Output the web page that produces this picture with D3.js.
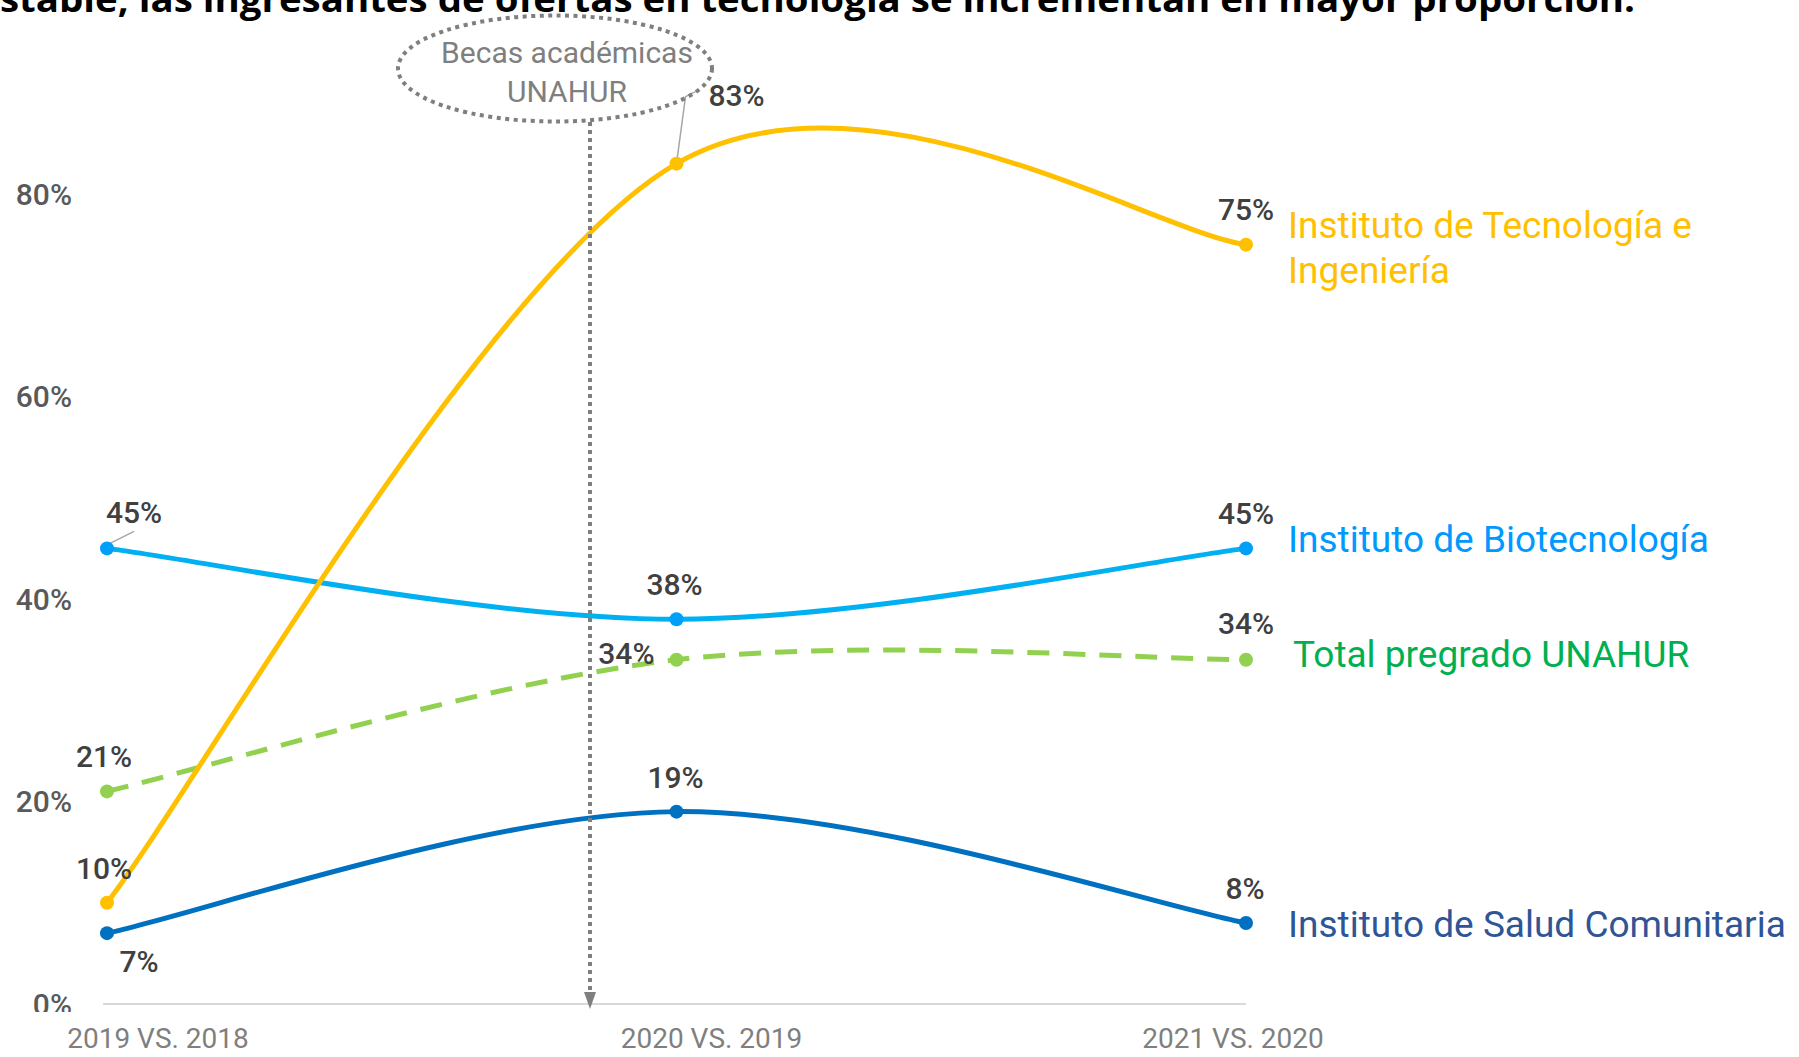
<!DOCTYPE html>
<html>
<head>
<meta charset="utf-8">
<script src="https://cdn.jsdelivr.net/npm/d3@7"></script>
<style>
  body { margin: 0; background: #fff; }
  svg { display: block; }
</style>
</head>
<body>
<div id="grafico"></div>
<script>
// datos del grafico
var categorias = ["2019 VS. 2018", "2020 VS. 2019", "2021 VS. 2020"];
var tecnologia = [0.10, 0.83, 0.75];
var biotecnologia = [0.45, 0.38, 0.45];
var totalPregrado = [0.21, 0.34, 0.34];
var saludComunitaria = [0.07, 0.19, 0.08];
var ticksY = [0, 0.2, 0.4, 0.6, 0.8];
var titulo = "stable, las ingresantes de ofertas en tecnología se incrementan en mayor proporción.";
var nota = ["Becas académicas", "UNAHUR"];

var W = 1799, H = 1057;
var fuente = "Roboto, 'DejaVu Sans', sans-serif";

var svg = d3.select("#grafico").append("svg")
  .attr("width", W).attr("height", H);

var x = d3.scalePoint().domain(categorias).range([107, 1246]);
var y = d3.scaleLinear().domain([0, 0.8]).range([1004, 194]);

// suavizado tipo excel (bezier con puntos de control a 1/6)
function curvaExcel(context) {
  return {
    areaStart: function() {}, areaEnd: function() {},
    lineStart: function() { this.p = []; },
    point: function(a, b) { this.p.push([a, b]); },
    lineEnd: function() {
      var p = this.p, n = p.length;
      context.moveTo(p[0][0], p[0][1]);
      for (var i = 0; i < n - 1; i++) {
        var p0 = p[Math.max(i - 1, 0)], p1 = p[i], p2 = p[i + 1], p3 = p[Math.min(i + 2, n - 1)];
        context.bezierCurveTo(
          p1[0] + (p2[0] - p0[0]) / 6, p1[1] + (p2[1] - p0[1]) / 6,
          p2[0] - (p3[0] - p1[0]) / 6, p2[1] - (p3[1] - p1[1]) / 6,
          p2[0], p2[1]);
      }
    }
  };
}

// titulo (cortado arriba como en el original)
svg.append("text")
  .attr("x", 0).attr("y", 12)
  .attr("textLength", 1635).attr("lengthAdjust", "spacingAndGlyphs")
  .style("font-family", "'Open Sans', 'Noto Sans', sans-serif")
  .style("font-weight", "bold").style("font-size", "36px")
  .attr("fill", "#000")
  .text(titulo);

// eje x
svg.append("line")
  .attr("x1", x(categorias[0]) - 4).attr("x2", x(categorias[2]))
  .attr("y1", y(0)).attr("y2", y(0))
  .style("stroke", "#d9d9d9").style("stroke-width", "2px");

var desplEtiquetaX = [51, 35, -13];
svg.selectAll(".catx")
  .data(categorias).enter()
  .append("text")
  .attr("class", "catx")
  .attr("x", function(d, i) { return x(d) + desplEtiquetaX[i]; })
  .attr("y", 1048)
  .attr("text-anchor", "middle")
  .style("font-family", fuente).style("font-size", "28px")
  .attr("fill", "#7f7f7f")
  .text(function(d) { return d; });

// eje y (el 0% queda recortado)
svg.append("clipPath").attr("id", "corte")
  .append("rect").attr("x", 0).attr("y", 0).attr("width", 200).attr("height", 1012);
svg.append("g").attr("clip-path", "url(#corte)")
  .selectAll("text")
  .data(ticksY).enter()
  .append("text")
  .attr("x", 72)
  .attr("y", function(d) { return y(d); })
  .attr("dy", "0.36em")
  .attr("text-anchor", "end")
  .style("font-family", fuente).style("font-size", "30px")
  .style("font-weight", "500")
  .attr("fill", "#595959")
  .text(function(d) { return d3.format(".0%")(d); });

// series
var series = [
  { nombre: ["Instituto de Salud Comunitaria"], valores: saludComunitaria, color: "#0070C0", punto: "#0070C0", texto: "#2F5597", guiones: null,
    etiq: [[32, 39, "middle"], [-1, -24, "middle"], [-1, -24, "middle"]], leyenda: [42, 14] },
  { nombre: ["Total pregrado UNAHUR"], valores: totalPregrado, color: "#92D050", punto: "#92D050", texto: "#00B050", guiones: "22,14",
    etiq: [[-3, -24, "middle"], [-22, 4, "end"], [0, -26, "middle"]], leyenda: [47, 7] },
  { nombre: ["Instituto de Biotecnología"], valores: biotecnologia, color: "#00B0F0", punto: "#00A0F8", texto: "#0099FF", guiones: null,
    etiq: [[27, -25, "middle"], [-2, -24, "middle"], [0, -24, "middle"]], leyenda: [42, 4] },
  { nombre: ["Instituto de Tecnología e", "Ingeniería"], valores: tecnologia, color: "#FFC000", punto: "#FFC000", texto: "#FFC000", guiones: null,
    etiq: [[-3, -24, "middle"], [32, -58, "start"], [0, -25, "middle"]], leyenda: [42, -7] }
];

var linea = d3.line()
  .x(function(d, i) { return x(categorias[i]); })
  .y(function(d) { return y(d); })
  .curve(curvaExcel);

series.forEach(function(s) {
  svg.append("path")
    .attr("d", linea(s.valores))
    .style("fill", "none")
    .style("stroke", s.color)
    .style("stroke-width", "5px")
    .style("stroke-dasharray", s.guiones);
});

// lineas guia de etiquetas
var pTec = [x(categorias[1]), y(tecnologia[1])];
svg.append("polyline")
  .attr("points", [pTec, [pTec[0] + 9, pTec[1] - 67], [pTec[0] + 19, pTec[1] - 72]].join(" "))
  .style("fill", "none").style("stroke", "#a6a6a6").style("stroke-width", "1.5px");
var pBio = [x(categorias[0]), y(biotecnologia[0])];
svg.append("line")
  .attr("x1", pBio[0] - 3).attr("y1", pBio[1] - 2)
  .attr("x2", pBio[0] + 27).attr("y2", pBio[1] - 17)
  .style("stroke", "#a6a6a6").style("stroke-width", "1.5px");

// nota Becas
svg.append("ellipse")
  .attr("cx", 555).attr("cy", 68.5).attr("rx", 157).attr("ry", 53)
  .style("fill", "none").style("stroke", "#7f7f7f")
  .style("stroke-width", "4px").style("stroke-dasharray", "4,4.5");
svg.selectAll(".nota")
  .data(nota).enter()
  .append("text")
  .attr("class", "nota")
  .attr("x", 567)
  .attr("y", function(d, i) { return 63 + i * 39; })
  .attr("text-anchor", "middle")
  .style("font-family", fuente).style("font-size", "30px")
  .attr("fill", "#7f7f7f")
  .text(function(d) { return d; });

// flecha punteada
svg.append("line")
  .attr("x1", 590).attr("x2", 590).attr("y1", 122).attr("y2", 992)
  .style("stroke", "#7f7f7f").style("stroke-width", "4px").style("stroke-dasharray", "4,4");
svg.append("polygon")
  .attr("points", "584,992 596,992 590,1009")
  .style("fill", "#7f7f7f");

// puntos, etiquetas y leyendas
series.forEach(function(s) {
  svg.selectAll(null)
    .data(s.valores).enter()
    .append("circle")
    .attr("cx", function(d, i) { return x(categorias[i]); })
    .attr("cy", function(d) { return y(d); })
    .attr("r", 7)
    .style("fill", s.punto);

  svg.selectAll(null)
    .data(s.valores).enter()
    .append("text")
    .attr("x", function(d, i) { return x(categorias[i]) + s.etiq[i][0]; })
    .attr("y", function(d, i) { return y(d) + s.etiq[i][1]; })
    .attr("text-anchor", function(d, i) { return s.etiq[i][2]; })
    .style("font-family", fuente).style("font-size", "30px")
    .style("font-weight", "500")
    .attr("fill", "#404040")
    .text(function(d) { return d3.format(".0%")(d); });

  var ult = s.valores.length - 1;
  var t = svg.append("text")
    .attr("x", x(categorias[ult]) + s.leyenda[0])
    .attr("y", y(s.valores[ult]) + s.leyenda[1])
    .style("font-family", fuente).style("font-size", "37px")
    .attr("fill", s.texto);
  s.nombre.forEach(function(n, j) {
    t.append("tspan")
      .attr("x", x(categorias[ult]) + s.leyenda[0])
      .attr("dy", j === 0 ? 0 : 45)
      .text(n);
  });
});
</script>
</body>
</html>
